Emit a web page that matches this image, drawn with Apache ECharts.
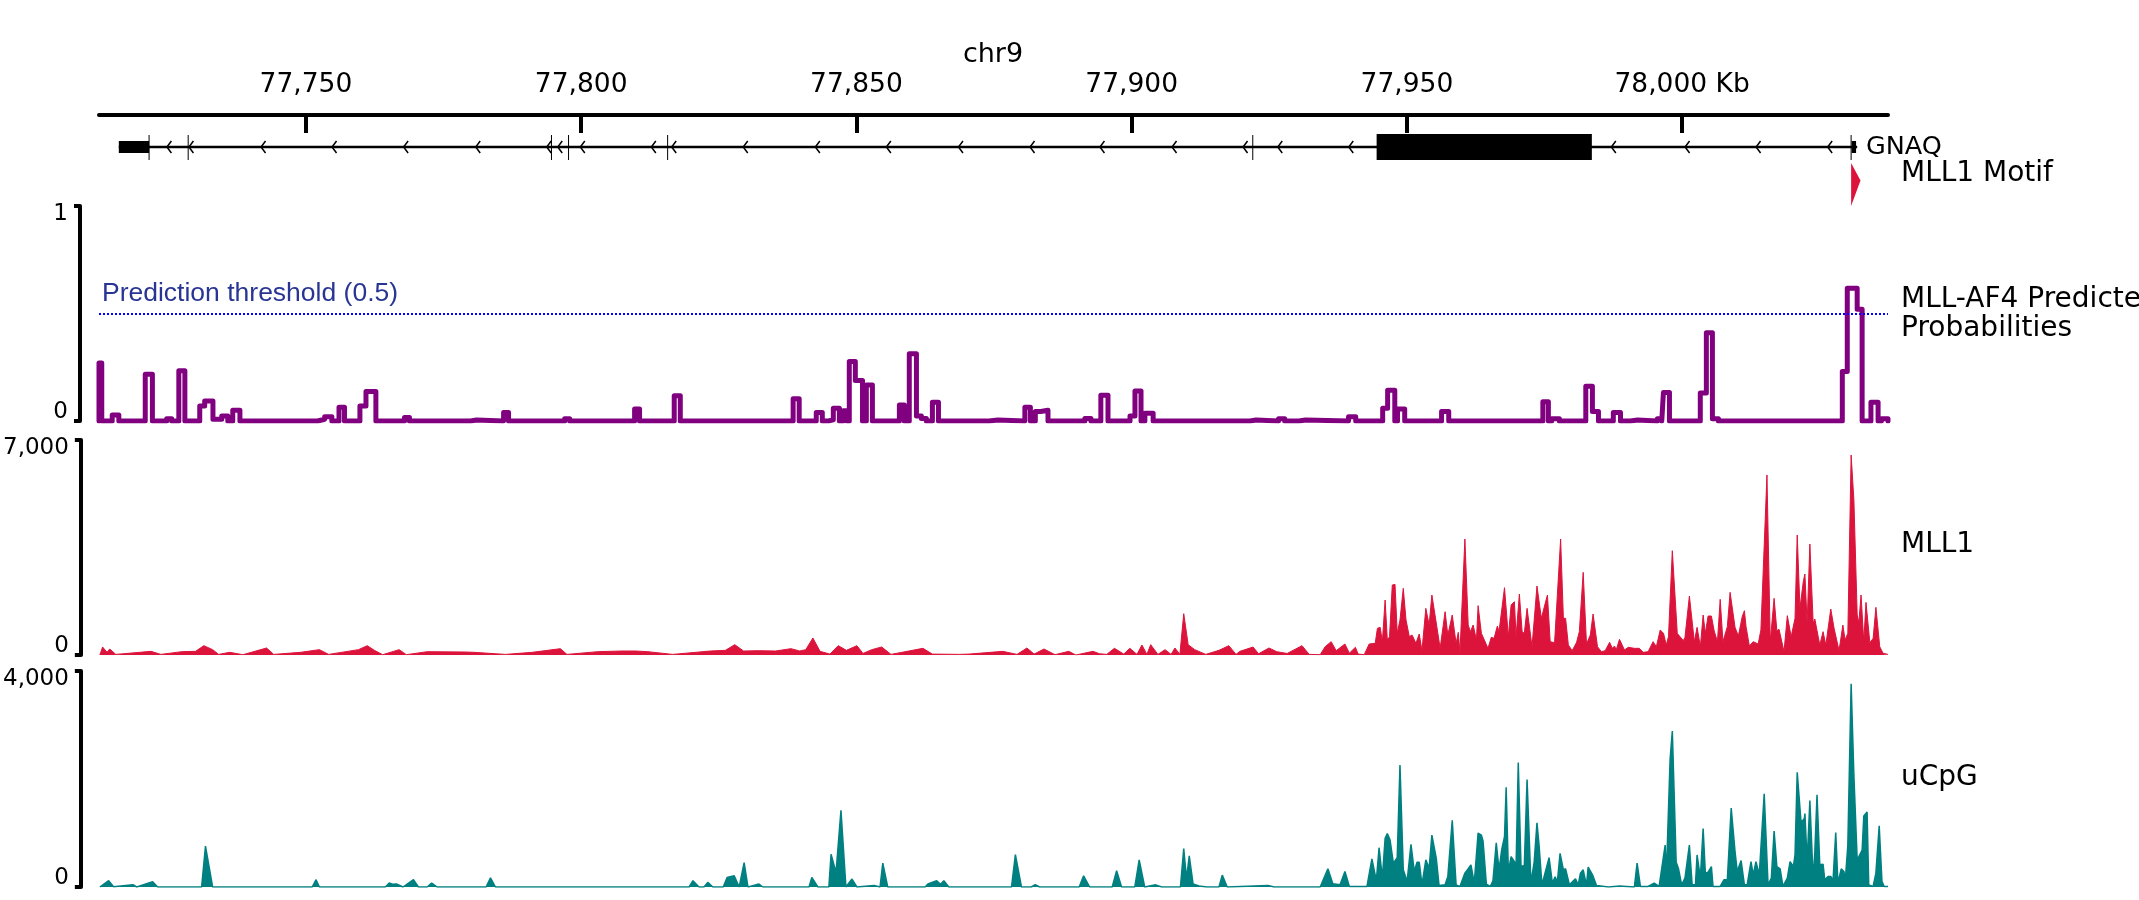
<!DOCTYPE html>
<html>
<head>
<meta charset="utf-8">
<title>GNAQ - MLL-AF4 predictions</title>
<script src="https://cdn.jsdelivr.net/npm/echarts@6.0.0/dist/echarts.min.js"></script>
<style>
  html, body { margin: 0; padding: 0; background: #fff; }
  #main { width: 2139px; height: 900px; }
</style>
</head>
<body>
<div id="main"></div>
<script>
// genomic window (kb on chr9)
const xMin = 77712.4
const xMax = 78037.4
const rulerTicks = [77750, 77800, 77850, 77900, 77950, 78000]

// GNAQ gene model (kb)
const geneSpan = [77716.0, 78031.8]
// [start, end, kind] kind 0 = UTR, 1 = coding
const exons = [[77716.0, 77721.5, 0], [77944.5, 77983.6, 1], [78030.8, 78031.6, 0]]
const exonMarks = [77721.5, 77728.6, 77794.6, 77797.7, 77815.7, 77922.0, 78030.7]
const chevrons = [77725.1, 77729.1, 77742.2, 77755.1, 77768.1, 77781.2, 77794.1, 77796.1, 77800.2,
  77813.1, 77816.8, 77829.8, 77842.9, 77855.8, 77868.9, 77881.9, 77894.6, 77907.7, 77920.6,
  77926.9, 77939.8, 77987.5, 78000.9, 78013.8, 78026.8]

// MLL1 motif hit
const motifs = [[78030.7, 78032.4]]

// MLL-AF4 predicted probability bins [start, end, value]
const probBins = [
  [77712.4, 77712.9, 0.27], [77714.8, 77716.0, 0.028], [77720.8, 77722.1, 0.218], [77724.7, 77725.6, 0.01],
  [77726.9, 77728.0, 0.234], [77730.7, 77731.6, 0.07], [77731.6, 77733.1, 0.093], [77733.1, 77734.7, 0.008],
  [77734.7, 77735.8, 0.023], [77736.7, 77738.0, 0.05], [77752.1, 77753.4, 0.008], [77753.4, 77754.7, 0.02],
  [77756.0, 77757.0, 0.064], [77759.8, 77760.9, 0.07], [77760.9, 77762.7, 0.137], [77767.9, 77768.8, 0.016],
  [77779.9, 77781.0, 0.005], [77785.9, 77786.8, 0.04], [77797.0, 77797.9, 0.01], [77809.7, 77810.6, 0.056],
  [77816.9, 77818.0, 0.117], [77838.5, 77839.6, 0.103], [77842.7, 77843.8, 0.039], [77844.9, 77845.8, 0.005],
  [77845.8, 77846.9, 0.059], [77847.6, 77848.3, 0.048], [77848.7, 77849.8, 0.277], [77849.8, 77851.1, 0.188],
  [77851.8, 77852.9, 0.168], [77857.8, 77858.7, 0.075], [77859.6, 77860.9, 0.313], [77860.9, 77861.8, 0.023],
  [77861.8, 77862.7, 0.012], [77863.8, 77864.9, 0.087], [77874.1, 77875.7, 0.005], [77880.6, 77881.6, 0.064],
  [77882.5, 77883.5, 0.044], [77883.5, 77884.8, 0.05], [77891.5, 77892.6, 0.012], [77894.4, 77895.7, 0.12],
  [77899.7, 77900.6, 0.023], [77900.6, 77901.7, 0.14], [77902.4, 77903.9, 0.036], [77921.5, 77922.6, 0.005],
  [77926.7, 77927.8, 0.01], [77930.4, 77931.6, 0.005], [77939.4, 77940.7, 0.02], [77945.6, 77946.5, 0.059],
  [77946.5, 77947.8, 0.143], [77948.3, 77949.6, 0.056], [77956.3, 77957.6, 0.044], [77974.7, 77975.7, 0.09],
  [77976.3, 77977.7, 0.01], [77982.5, 77983.7, 0.162], [77983.7, 77984.8, 0.044], [77987.5, 77988.8, 0.039],
  [77990.6, 77991.9, 0.005], [77995.5, 77996.3, 0.01], [77996.6, 77997.7, 0.132], [78003.3, 78004.4, 0.13],
  [78004.4, 78005.5, 0.41], [78005.5, 78006.6, 0.01], [78029.1, 78030.0, 0.23], [78030.0, 78031.8, 0.617],
  [78031.8, 78032.7, 0.52], [78034.3, 78035.6, 0.087], [78036.2, 78037.4, 0.01]
]
const threshold = 0.5

// MLL1 ChIP signal [kb, value]
const mll1Signal = [
  [77712.4,0],[77712.9,260],[77713.7,87],[77714.2,195],[77715.3,20],[77716.8,43],[77721.7,119],[77723.5,20],
  [77727.3,108],[77729.8,119],[77731.3,304],[77732.9,174],[77734.0,20],[77736.0,87],[77738.4,10],[77742.7,228],
  [77744.0,20],[77748.9,87],[77752.3,174],[77754.0,20],[77759.4,174],[77761.0,304],[77762.3,152],[77763.8,10],
  [77766.8,174],[77768.1,10],[77771.9,108],[77778.6,98],[77780.4,87],[77786.1,20],[77791.0,87],[77796.1,206],
  [77797.3,20],[77802.9,108],[77807.3,130],[77809.8,130],[77812.0,108],[77816.5,20],[77823.4,130],[77826.1,152],
  [77827.8,336],[77829.4,130],[77832.1,141],[77835.2,130],[77838.0,206],[77839.6,130],[77840.7,174],[77842.0,553],
  [77843.3,119],[77845.1,30],[77846.6,304],[77848.1,152],[77850.0,304],[77851.1,50],[77852.7,174],[77854.5,260],
  [77856.2,20],[77862.0,217],[77863.7,30],[77868.6,20],[77870.4,30],[77876.5,119],[77879.1,20],[77880.9,228],
  [77882.2,30],[77884.0,195],[77886.0,10],[77888.5,119],[77889.8,0],[77892.9,119],[77894.1,40],[77895.4,20],
  [77896.8,217],[77898.5,30],[77899.6,217],[77900.9,20],[77901.8,325],[77902.7,20],[77903.4,336],[77904.7,20],
  [77906.0,174],[77907.1,20],[77907.8,228],[77908.7,20],[77909.4,1345],[77910.2,336],[77911.4,174],[77913.4,20],
  [77915.8,152],[77917.6,304],[77918.9,20],[77919.6,119],[77922.0,260],[77923.0,40],[77924.9,228],[77926.3,108],
  [77928.2,50],[77930.9,304],[77932.2,20],[77934.2,10],[77935.1,271],[77936.2,434],[77937.1,141],[77938.7,358],
  [77939.5,60],[77940.6,250],[77941.1,30],[77942.2,10],[77943.1,358],[77944.2,380],[77944.6,868],[77945.1,900],
  [77945.5,434],[77946.0,1790],[77946.4,488],[77946.8,597],[77947.3,2278],[77947.8,2300],[77948.2,705],[77948.7,1139],
  [77949.3,2170],[77949.8,1139],[77950.4,597],[77950.9,651],[77951.6,380],[77952.2,683],[77952.7,141],[77953.4,1519],
  [77954.0,976],[77954.5,1953],[77955.4,922],[77956.0,217],[77956.9,1410],[77957.4,651],[77958.2,1302],[77958.9,380],
  [77959.3,738],[77959.6,76],[77960.5,3776],[77961.1,976],[77961.5,760],[77962.0,976],[77962.6,488],[77962.9,1606],
  [77963.5,705],[77963.8,760],[77964.7,217],[77965.3,575],[77965.8,543],[77966.4,944],[77966.7,760],[77967.7,2192],
  [77968.4,597],[77968.9,1628],[77969.5,1736],[77969.8,597],[77970.4,1986],[77970.9,760],[77971.3,705],[77971.8,1519],
  [77972.7,271],[77973.6,2246],[77974.4,1194],[77975.1,1682],[77975.5,1953],[77976.0,434],[77976.8,401],[77977.9,3776],
  [77978.4,1194],[77978.8,1194],[77979.3,326],[77980.0,141],[77980.8,412],[77981.3,760],[77982.0,2691],[77982.6,358],
  [77983.3,651],[77983.8,1335],[77984.6,271],[77985.3,108],[77986.0,141],[77986.8,412],[77987.3,217],[77987.7,293],
  [77988.0,163],[77988.6,510],[77989.5,163],[77990.2,250],[77991.3,217],[77992.2,217],[77992.9,87],[77993.8,108],
  [77994.7,434],[77995.3,271],[77996.0,814],[77996.6,705],[77997.1,326],[77997.5,597],[77998.2,3396],[77999.1,705],
  [77999.6,597],[78000.2,467],[78000.5,575],[78001.3,1920],[78002.2,434],[78002.7,900],[78003.3,271],[78003.8,1302],
  [78004.2,705],[78004.7,1269],[78005.3,1269],[78005.8,792],[78006.4,434],[78006.9,1812],[78007.4,434],[78008.2,922],
  [78008.7,2040],[78009.6,900],[78010.2,618],[78010.9,1248],[78011.3,1443],[78011.6,922],[78012.2,293],[78012.9,434],
  [78013.8,358],[78014.3,814],[78015.4,5859],[78016.0,434],[78016.7,1845],[78017.2,792],[78017.6,835],[78018.5,108],
  [78019.1,1280],[78019.8,597],[78020.5,1194],[78020.9,3906],[78021.4,1519],[78022.0,2387],[78022.3,2637],[78022.7,1031],
  [78023.2,3613],[78023.8,1031],[78024.1,1172],[78025.0,326],[78025.6,760],[78026.1,326],[78027.0,1497],[78027.6,868],
  [78027.9,814],[78028.5,141],[78029.2,976],[78029.6,488],[78030.1,705],[78030.7,6510],[78031.2,5045],[78031.8,1302],
  [78032.1,1052],[78032.5,1953],[78033.0,434],[78033.4,1714],[78034.1,401],[78034.7,543],[78035.2,1552],[78035.9,271],
  [78036.5,54],[78037.4,20]
]

// uCpG signal [kb, value]
const cpgSignal = [
  [77712.4,0],[77714.0,116],[77714.9,5],[77718.4,43],[77719.1,0],[77722.0,98],[77722.9,0],[77730.9,0],
  [77731.6,759],[77732.9,0],[77751.0,0],[77751.7,135],[77752.3,0],[77764.3,0],[77765.0,73],[77765.6,50],
  [77766.3,55],[77767.5,0],[77769.4,135],[77770.3,0],[77771.9,0],[77772.7,73],[77773.7,0],[77782.6,0],
  [77783.4,171],[77784.3,0],[77819.5,0],[77820.2,116],[77821.3,0],[77822.2,0],[77822.9,86],[77823.8,0],
  [77825.7,0],[77826.4,177],[77827.7,208],[77828.6,0],[77829.5,453],[77830.2,0],[77832.2,55],[77832.9,0],
  [77841.3,0],[77841.8,177],[77842.9,0],[77844.9,0],[77845.3,606],[77846.2,269],[77847.1,1420],[77848.0,0],
  [77849.1,147],[77850.0,0],[77853.1,30],[77854.2,0],[77854.7,441],[77855.6,0],[77862.4,0],[77862.9,55],
  [77864.5,116],[77865.2,50],[77865.8,116],[77866.7,0],[77878.1,0],[77878.8,600],[77879.9,0],[77881.7,0],
  [77882.4,43],[77883.2,0],[77890.4,0],[77891.2,208],[77892.3,0],[77896.4,0],[77897.2,300],[77898.1,0],
  [77900.5,0],[77901.3,502],[77902.3,0],[77904.3,40],[77905.4,0],[77908.8,0],[77909.4,710],[77909.9,150],
  [77910.4,575],[77911.1,55],[77912.2,20],[77913.6,0],[77915.8,0],[77916.4,220],[77917.3,0],[77924.7,30],
  [77925.8,0],[77934.2,0],[77935.6,337],[77936.5,61],[77937.8,40],[77938.7,288],[77939.5,10],[77942.7,10],
  [77943.6,520],[77944.4,116],[77944.9,728],[77945.5,165],[77946.0,900],[77946.4,991],[77946.9,869],[77947.5,441],
  [77947.8,422],[77948.2,545],[77948.7,2258],[77949.3,318],[77950.0,104],[77950.7,789],[77951.3,288],[77951.8,459],
  [77952.2,459],[77952.7,43],[77953.4,502],[77954.0,349],[77954.5,961],[77955.3,532],[77955.8,30],[77956.9,40],
  [77957.4,196],[77958.2,1236],[77958.9,40],[77959.6,10],[77960.5,257],[77961.1,337],[77961.6,410],[77962.2,73],
  [77962.9,998],[77963.5,961],[77963.8,851],[77964.4,55],[77965.1,10],[77965.6,116],[77966.2,820],[77966.7,318],
  [77967.2,698],[77967.7,930],[77968.0,1848],[77968.4,288],[77968.9,563],[77969.5,471],[77969.8,379],[77970.2,2307],
  [77970.7,379],[77971.3,398],[77971.8,1989],[77972.5,73],[77973.1,471],[77973.6,1187],[77974.0,747],[77974.5,40],
  [77975.3,349],[77975.8,545],[77976.4,73],[77976.9,190],[77977.3,90],[77977.8,624],[77978.4,318],[77978.8,337],
  [77979.5,40],[77980.6,153],[77981.1,40],[77981.5,257],[77982.0,318],[77982.6,30],[77982.9,367],[77983.7,226],
  [77984.4,30],[77986.6,0],[77988.6,20],[77991.3,0],[77991.8,441],[77992.4,10],[77993.8,10],[77994.9,73],
  [77995.8,10],[77996.9,777],[77997.1,165],[77997.8,2368],[77998.2,2889],[77998.9,459],[77999.3,349],[77999.9,40],
  [78000.5,165],[78001.3,777],[78001.8,40],[78002.4,40],[78002.7,594],[78003.3,165],[78003.8,1083],[78004.2,257],
  [78004.7,275],[78005.3,379],[78005.6,10],[78006.9,10],[78007.6,135],[78008.2,135],[78008.9,1463],[78009.6,655],
  [78010.0,288],[78010.7,490],[78011.3,40],[78011.8,40],[78012.5,471],[78012.9,226],[78013.4,471],[78014.0,226],
  [78014.9,1726],[78015.6,40],[78016.2,165],[78016.7,1034],[78017.2,379],[78017.8,337],[78018.3,10],[78019.1,165],
  [78019.6,471],[78020.2,379],[78020.5,594],[78020.9,2124],[78021.6,1193],[78022.2,1267],[78022.3,1359],[78022.7,471],
  [78023.2,1603],[78023.8,135],[78024.1,655],[78024.5,1707],[78025.0,410],[78025.6,422],[78025.9,135],[78026.5,196],
  [78027.0,196],[78027.4,104],[78027.9,1010],[78028.3,73],[78028.9,337],[78029.4,288],[78029.6,73],[78030.1,777],
  [78030.7,3764],[78031.2,2062],[78031.8,502],[78032.1,502],[78032.7,685],[78033.0,1316],[78033.6,1389],[78033.9,40],
  [78034.7,10],[78035.2,257],[78035.8,1132],[78036.3,104],[78036.7,10],[78037.4,10]
]

// 把概率区间转成阶梯折线
function binsToStep(bins) {
  let pts = [[xMin, 0]]
  for (let i = 0; i < bins.length; i++) {
    let [s, e, v] = bins[i]
    let last = pts[pts.length - 1]
    if (i > 0 && s - bins[i - 1][1] < 0.3) {
      pts.push([last[0], v])
    } else {
      pts.push([s, 0])
      pts.push([s, v])
    }
    pts.push([e, v])
    let next = bins[i + 1]
    if (!next || next[0] - e >= 0.3) pts.push([e, 0])
  }
  pts.push([xMax, 0])
  return pts
}

const FONT = 'DejaVu Sans'
const GENE_ROW = 32
const MOTIF_TOP = 48
const MOTIF_BOTTOM = 91

function hiddenX(i) {
  return { gridIndex: i, type: 'value', min: xMin, max: xMax, show: false }
}

function trackY(i, max) {
  return {
    gridIndex: i, type: 'value', min: 0, max: max, interval: max,
    position: 'left', offset: 19,
    axisLine: { show: true, lineStyle: { color: '#000', width: 4 } },
    axisTick: { show: true, length: 6, lineStyle: { color: '#000', width: 4 } },
    splitLine: { show: false },
    axisLabel: {
      margin: 12,
      formatter: function (v) {
        return v === 0 ? '{lo|0}' : '{hi|' + v.toLocaleString('en-US') + '}'
      },
      rich: {
        hi: { fontSize: 23, fontFamily: FONT, color: '#000', padding: [16, 0, 0, 0] },
        lo: { fontSize: 23, fontFamily: FONT, color: '#000', padding: [0, 0, 18, 0] }
      }
    }
  }
}

function label(text, x, y, size, align) {
  return {
    type: 'text', x: x, y: y,
    style: { text: text, fontSize: size, lineHeight: 29, fontFamily: FONT, fill: '#000', align: align || 'left', verticalAlign: 'middle' }
  }
}

let option = {
  animation: false,
  backgroundColor: '#fff',
  textStyle: { fontFamily: FONT },
  grid: [
    { left: 99, right: 251, top: 115, height: 95 },
    { left: 99, right: 251, top: 206, height: 215 },
    { left: 99, right: 251, top: 440, height: 215 },
    { left: 99, right: 251, top: 671, height: 216 }
  ],
  xAxis: [
    {
      gridIndex: 0, type: 'value', min: xMin, max: xMax, position: 'top',
      axisLine: { show: true, lineStyle: { color: '#000', width: 4 } },
      axisTick: { show: true, inside: true, length: 18, customValues: rulerTicks, lineStyle: { color: '#000', width: 4 } },
      axisLabel: {
        customValues: rulerTicks, margin: 16, fontSize: 26.5, color: '#000', fontFamily: FONT,
        formatter: function (v) {
          let s = v.toLocaleString('en-US')
          return v === rulerTicks[rulerTicks.length - 1] ? s + ' Kb' : s
        }
      },
      splitLine: { show: false }
    },
    hiddenX(1), hiddenX(2), hiddenX(3)
  ],
  yAxis: [
    { gridIndex: 0, type: 'value', min: 0, max: 95, inverse: true, show: false },
    trackY(1, 1), trackY(2, 7000), trackY(3, 4000)
  ],
  graphic: [
    label('chr9', 993, 55, 27, 'center'),
    label('GNAQ', 1866, 147, 25.5),
    label('MLL1 Motif', 1901, 174, 28),
    label('MLL-AF4 Predicted\nProbabilities', 1901, 314, 28),
    label('MLL1', 1901, 545, 28),
    label('uCpG', 1901, 778, 28),
    {
      type: 'text', x: 102, y: 294,
      style: { text: 'Prediction threshold (0.5)', fontSize: 26.5, fontFamily: 'Liberation Sans', fill: '#283593', align: 'left', verticalAlign: 'middle' }
    }
  ],
  series: [
    {
      // intron line
      type: 'custom', xAxisIndex: 0, yAxisIndex: 0, clip: false,
      data: [[geneSpan[0], geneSpan[1]]],
      encode: { x: [0, 1] },
      renderItem: function (params, api) {
        let a = api.coord([api.value(0), GENE_ROW])
        let b = api.coord([api.value(1), GENE_ROW])
        return { type: 'rect', shape: { x: a[0], y: a[1] - 1.25, width: b[0] - a[0], height: 2.5 }, style: { fill: '#000' } }
      }
    },
    {
      // strand arrows
      type: 'custom', xAxisIndex: 0, yAxisIndex: 0, clip: false,
      data: chevrons.map(c => [c, 0]),
      encode: { x: 0 },
      renderItem: function (params, api) {
        let p = api.coord([api.value(0), GENE_ROW])
        return {
          type: 'polyline',
          shape: { points: [[p[0] + 2.5, p[1] - 6], [p[0] - 2, p[1]], [p[0] + 2.5, p[1] + 6]] },
          style: { stroke: '#000', lineWidth: 1.5, fill: null }
        }
      }
    },
    {
      // small exons
      type: 'custom', xAxisIndex: 0, yAxisIndex: 0, clip: false,
      data: exonMarks.map(c => [c, 0]),
      encode: { x: 0 },
      renderItem: function (params, api) {
        let p = api.coord([api.value(0), GENE_ROW])
        return { type: 'line', shape: { x1: p[0], y1: p[1] - 12, x2: p[0], y2: p[1] + 13 }, style: { stroke: '#000', lineWidth: 1 } }
      }
    },
    {
      // exon blocks
      type: 'custom', xAxisIndex: 0, yAxisIndex: 0, clip: false,
      data: exons,
      encode: { x: [0, 1] },
      renderItem: function (params, api) {
        let a = api.coord([api.value(0), GENE_ROW])
        let b = api.coord([api.value(1), GENE_ROW])
        let h = api.value(2) === 1 ? 13 : 6
        return { type: 'rect', shape: { x: a[0], y: a[1] - h, width: Math.max(b[0] - a[0], 1), height: 2 * h }, style: { fill: '#000' } }
      }
    },
    {
      // motif
      type: 'custom', xAxisIndex: 0, yAxisIndex: 0, clip: false,
      data: motifs,
      encode: { x: [0, 1] },
      renderItem: function (params, api) {
        let a = api.coord([api.value(0), MOTIF_TOP])
        let b = api.coord([api.value(1), (MOTIF_TOP + MOTIF_BOTTOM) / 2])
        let c = api.coord([api.value(0), MOTIF_BOTTOM])
        return { type: 'polygon', shape: { points: [a, [b[0], b[1] - 4], c] }, style: { fill: '#DC143C' } }
      }
    },
    {
      name: 'MLL-AF4 Predicted Probabilities',
      type: 'line', xAxisIndex: 1, yAxisIndex: 1,
      data: binsToStep(probBins),
      symbol: 'none',
      lineStyle: { color: '#800080', width: 5, join: 'round', cap: 'round' },
      markLine: {
        silent: true, symbol: 'none', label: { show: false },
        lineStyle: { color: '#0000ff', type: [2, 2], width: 2 },
        data: [{ yAxis: threshold }]
      }
    },
    {
      name: 'MLL1',
      type: 'line', xAxisIndex: 2, yAxisIndex: 2,
      data: mll1Signal,
      symbol: 'none',
      lineStyle: { color: '#DC143C', width: 1 },
      areaStyle: { color: '#DC143C', opacity: 1 }
    },
    {
      name: 'uCpG',
      type: 'line', xAxisIndex: 3, yAxisIndex: 3,
      data: cpgSignal,
      symbol: 'none',
      lineStyle: { color: '#008080', width: 1.5 },
      areaStyle: { color: '#008080', opacity: 1 }
    }
  ]
}

let myChart = echarts.init(document.getElementById('main'))
myChart.setOption(option)
</script>
</body>
</html>
